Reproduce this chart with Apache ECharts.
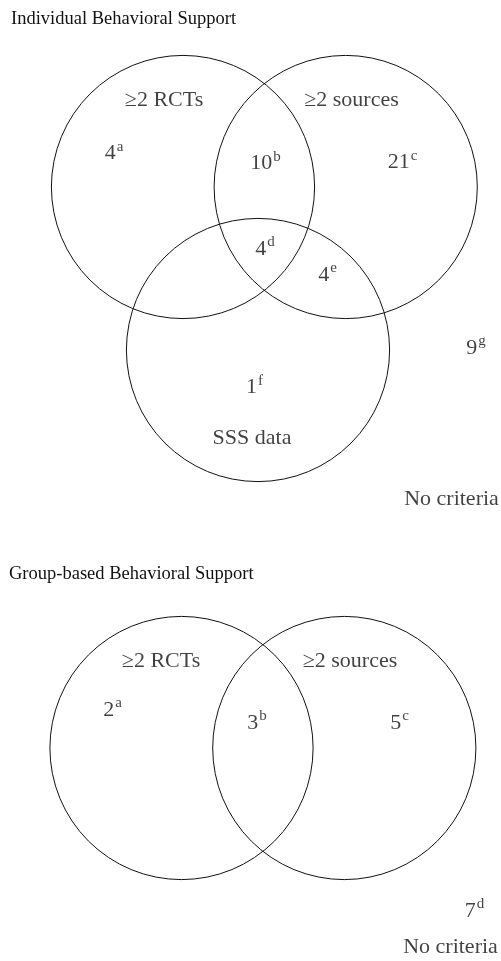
<!DOCTYPE html>
<html>
<head>
<meta charset="utf-8">
<script src="https://cdn.jsdelivr.net/npm/echarts@6/dist/echarts.min.js"></script>
<style>html,body{margin:0;padding:0;background:#fff}#c{width:501px;height:961px}</style>
</head>
<body>
<div id="c"></div>
<script>
// ---- data ----
const panelTitles = ['Individual Behavioral Support', 'Group-based Behavioral Support'];
// sets (circle names)
const setNames1 = ['\u22652 RCTs', '\u22652 sources', 'SSS data'];
const setNames2 = ['\u22652 RCTs', '\u22652 sources'];
// region counts and footnote letters
const counts1 = [4, 10, 21, 4, 4, 1, 9];
const notes1  = ['a', 'b', 'c', 'd', 'e', 'f', 'g'];
const counts2 = [2, 3, 5, 7];
const notes2  = ['a', 'b', 'c', 'd'];
const outsideLabel = 'No criteria';

// ---- layout (diagram space) ----
const circleR = 131.6;
const circles1 = [[183, 187], [345.7, 187], [258, 350]];
const circles2 = [[181.5, 748], [344.3, 748]];
const setLabelPos1 = [[164, 100], [351.5, 100], [252, 438]];
const setLabelPos2 = [[161, 661.7], [350, 661.7]];
const countPos1 = [[114, 153.5], [265.5, 163.5], [402.5, 162.5], [265, 249], [327.5, 275], [254.5, 387.5], [476, 348]];
const countPos2 = [[112.5, 710], [257, 723], [399.5, 723], [474.5, 911]];
const outsidePos = [[451.5, 499], [450.5, 947]];

const FONT = '"Liberation Serif", "Times New Roman", serif';
const TXT = '#111';

const chart = echarts.init(document.getElementById('c'), null, {renderer: 'canvas'});

const circleData = circles1.concat(circles2).map(c => [c[0], c[1], circleR]);
const setLabelData = setNames1.map((n, i) => ({value: setLabelPos1[i], name: n}))
  .concat(setNames2.map((n, i) => ({value: setLabelPos2[i], name: n})))
  .concat(outsidePos.map(p => ({value: p, name: outsideLabel})));
const countData = counts1.map((c, i) => ({value: countPos1[i], name: '{n|' + c + '}{s|' + notes1[i] + '}'}))
  .concat(counts2.map((c, i) => ({value: countPos2[i], name: '{n|' + c + '}{s|' + notes2[i] + '}'})));

chart.setOption({
  animation: false,
  title: [
    {text: panelTitles[0], left: 11, top: 10, padding: 0,
     textStyle: {fontFamily: FONT, fontSize: 18.5, fontWeight: 'normal', color: TXT}},
    {text: panelTitles[1], left: 9, top: 565, padding: 0,
     textStyle: {fontFamily: FONT, fontSize: 18.5, fontWeight: 'normal', color: TXT}}
  ],
  grid: {left: 0, right: 0, top: 0, bottom: 0},
  xAxis: {type: 'value', min: 0, max: 501, show: false},
  yAxis: {type: 'value', min: 0, max: 961, inverse: true, show: false},
  series: [
    {
      type: 'custom',
      data: circleData,
      silent: true,
      renderItem: function (params, api) {
        const c = api.coord([api.value(0), api.value(1)]);
        const r = api.size([api.value(2), 0])[0];
        return {
          type: 'circle',
          shape: {cx: c[0], cy: c[1], r: r},
          style: {fill: 'none', stroke: '#111', lineWidth: 1}
        };
      }
    },
    {
      type: 'scatter',
      symbolSize: 0,
      data: setLabelData,
      label: {
        show: true, position: 'inside',
        formatter: p => p.name,
        fontFamily: FONT, fontSize: 22, color: TXT, textBorderWidth: 0
      }
    },
    {
      type: 'scatter',
      symbolSize: 0,
      data: countData,
      label: {
        show: true, position: 'inside',
        formatter: p => p.name,
        textBorderWidth: 0,
        rich: {
          n: {fontFamily: FONT, fontSize: 22, lineHeight: 28, color: TXT, verticalAlign: 'middle', textBorderWidth: 0},
          s: {fontFamily: FONT, fontSize: 15, color: TXT, verticalAlign: 'top', padding: [0, 0, 0, 1], textBorderWidth: 0}
        }
      }
    }
  ]
});
</script>
</body>
</html>
